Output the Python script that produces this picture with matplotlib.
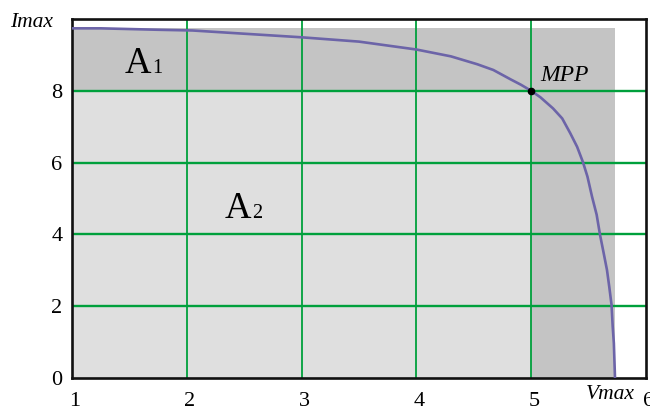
'''I-V curve of a PV cell with the maximum power rectangle'''

import matplotlib
matplotlib.use('Agg')
import matplotlib.pyplot as plt
import matplotlib.transforms as mtransforms
from matplotlib.patches import Rectangle

# I-V characteristic
voltage = [1.0, 1.25, 1.75, 2.05, 2.5, 3.0, 3.5, 4.0, 4.3, 4.53, 4.67, 4.82, 4.91,
           5.0, 5.08, 5.19, 5.27, 5.34, 5.40, 5.45, 5.49, 5.53, 5.57, 5.60, 5.63,
           5.66, 5.68, 5.70, 5.71, 5.72, 5.73]
current = [9.74, 9.74, 9.70, 9.68, 9.59, 9.49, 9.37, 9.15, 8.96, 8.74, 8.58, 8.32, 8.17,
           8.00, 7.82, 7.51, 7.23, 6.82, 6.44, 6.02, 5.61, 5.05, 4.55, 3.98, 3.50,
           3.01, 2.54, 2.03, 1.43, 0.97, 0.0]

v_mpp, i_mpp = 5.0, 8.0
v_oc, i_sc = 5.73, 9.74

x_ticks = [1, 2, 3, 4, 5, 6]
y_ticks = [0, 2, 4, 6, 8]

SERIF = 'Liberation Serif'
GREEN = '#00a03c'
CURVE = '#6c64a8'

fig = plt.figure(figsize=(6.5, 4.07), dpi=100)
ax = fig.add_axes([72 / 650, 29 / 407, 574 / 650, 359 / 407])

# outer rectangle Voc x Isc, then the MPP rectangle on top
ax.add_patch(Rectangle((x_ticks[0], 0), v_oc - x_ticks[0], i_sc,
                       facecolor='#c4c4c4', edgecolor='none', zorder=1))
ax.add_patch(Rectangle((x_ticks[0], 0), v_mpp - x_ticks[0], i_mpp,
                       facecolor='#dfdfdf', edgecolor='none', zorder=1))

for x in x_ticks[1:-1]:
    ax.axvline(x, color=GREEN, lw=1.3, zorder=1.5)
for y in y_ticks[1:]:
    ax.axhline(y, color=GREEN, lw=1.7, zorder=1.5)

ax.plot(voltage, current, color=CURVE, lw=1.9, zorder=3)
ax.plot([v_mpp], [i_mpp], 'o', color='black', ms=4.5, zorder=4)

ax.set_xlim(1, 6)
ax.set_ylim(0, 10)
ax.set_xticks(x_ticks)
ax.set_yticks(y_ticks)
ax.tick_params(length=0, labelsize=16)
ax.tick_params(axis='x', pad=10)
ax.tick_params(axis='y', pad=7)
for lab in ax.get_xticklabels() + ax.get_yticklabels():
    lab.set_fontfamily(SERIF)
shift = mtransforms.ScaledTranslation(3 / 100, 0, fig.dpi_scale_trans)
for lab in ax.get_xticklabels():
    lab.set_transform(lab.get_transform() + shift)

for sp in ax.spines.values():
    sp.set_linewidth(1.9)
    sp.set_color('#111111')

# area labels, the index is a smaller glyph on the same baseline
ax.text(1.462, 8.50, 'A', family=SERIF, fontsize=26.5, va='baseline', zorder=5)
ax.text(1.697, 8.50, '1', family=SERIF, fontsize=14.5, va='baseline', zorder=5)
ax.text(2.333, 4.47, 'A', family=SERIF, fontsize=26.5, va='baseline', zorder=5)
ax.text(2.568, 4.47, '2', family=SERIF, fontsize=14.5, va='baseline', zorder=5)

ax.text(5.08, 8.28, 'MPP', family=SERIF, style='italic', fontsize=17,
        va='baseline', zorder=5)
fig.text(10 / 650, (407 - 27) / 407, 'Imax', family=SERIF, style='italic',
         fontsize=15.5, va='baseline')
fig.text(586 / 650, (407 - 399) / 407, 'Vmax', family=SERIF, style='italic',
         fontsize=15.5, va='baseline')

fig.savefig('out.png', dpi=100)
